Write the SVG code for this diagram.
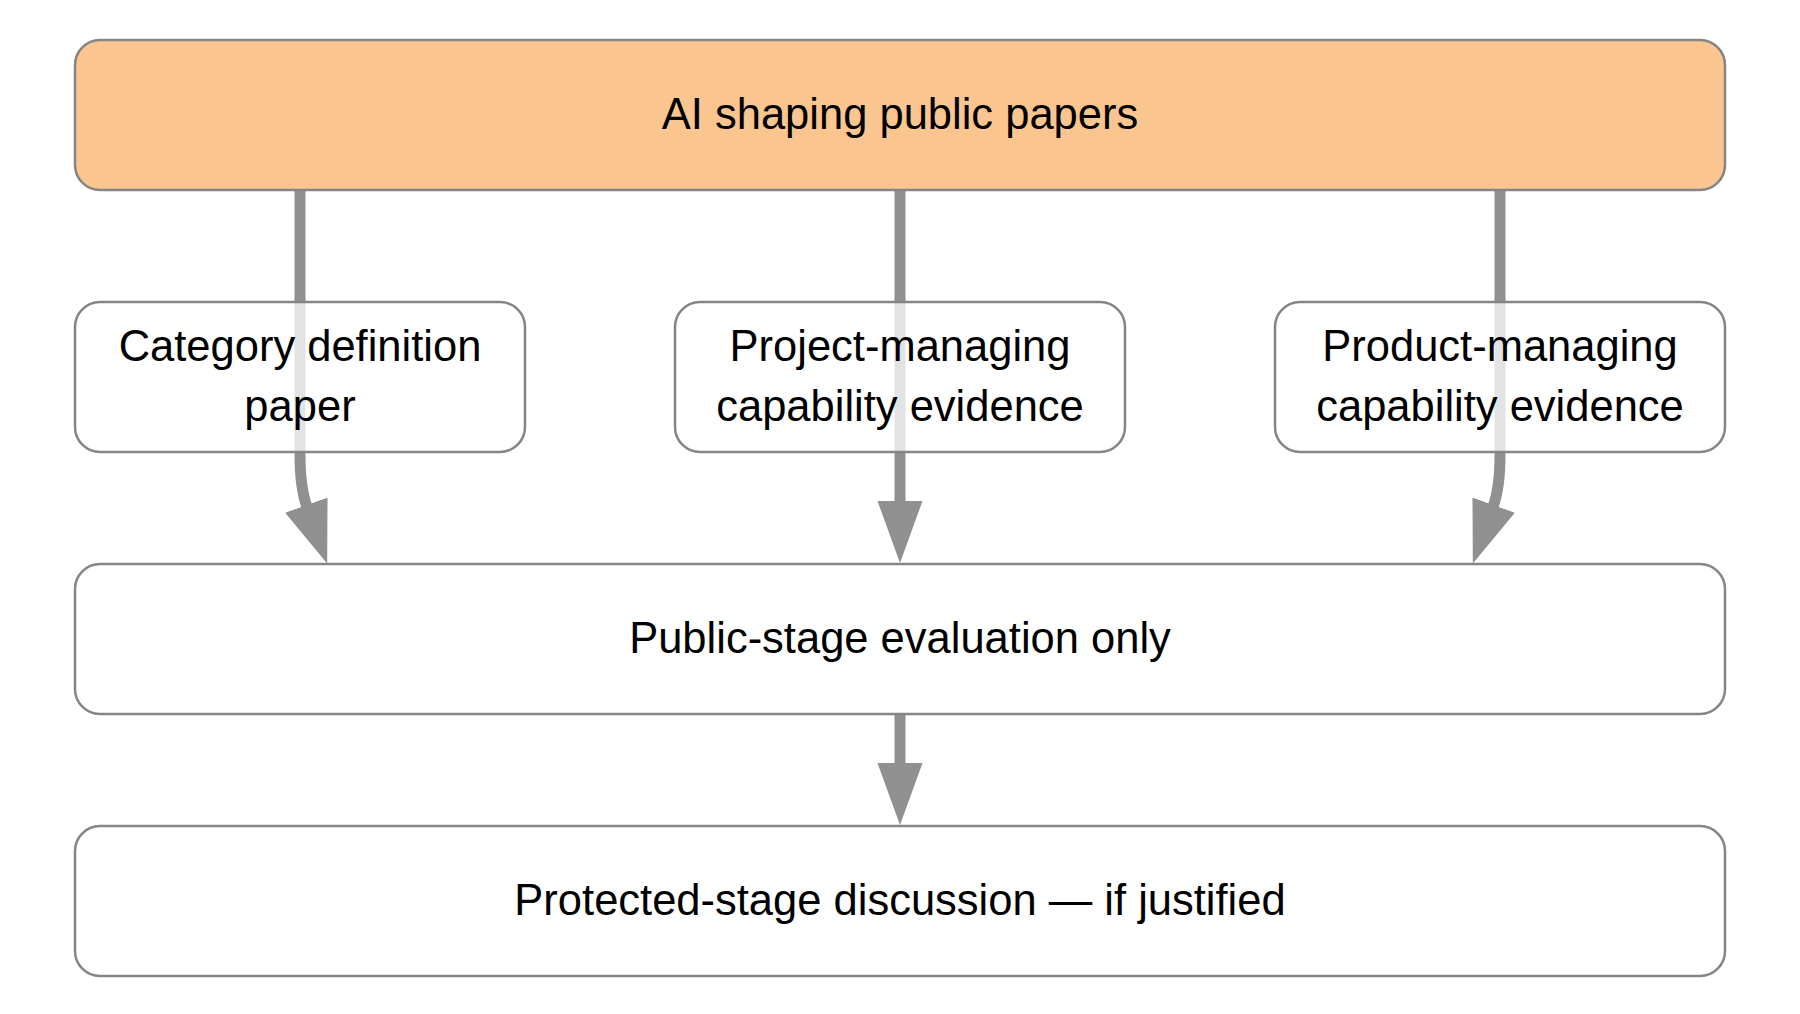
<svg xmlns="http://www.w3.org/2000/svg" width="1800" height="1014" viewBox="0 0 1800 1014">
  <style>
    .box { fill: #ffffff; fill-opacity: 0.75; stroke: #858585; stroke-width: 2.5; }
    .top { fill: #FBC58F; fill-opacity: 1; }
    .lbl { font-family: "Liberation Sans", Arial, sans-serif; font-size: 43.5px; fill: #000000; text-anchor: middle; }
    .edge { fill: none; stroke: #909090; stroke-width: 11; }
  </style>
  <defs>
    <marker id="arrow" markerUnits="userSpaceOnUse" markerWidth="64" markerHeight="46" viewBox="0 0 64 46" refX="2" refY="22.5" orient="auto">
      <path d="M0,0 L62,22.5 L0,45 Z" fill="#909090"/>
    </marker>
  </defs>
  <rect width="1800" height="1014" fill="#ffffff"/>
  <g id="connectors">
    <path class="edge" d="M300,190 V455 Q300,487.4 307,507" marker-end="url(#arrow)"/>
    <path class="edge" d="M900,190 V503" marker-end="url(#arrow)"/>
    <path class="edge" d="M1500,190 V455 Q1500,487.4 1493,507" marker-end="url(#arrow)"/>
    <path class="edge" d="M900,714 V765" marker-end="url(#arrow)"/>
  </g>
  <g id="node-ai">
    <rect class="box top" x="75" y="40" width="1650" height="150" rx="25"/>
    <text class="lbl" x="900" y="128.5">AI shaping public papers</text>
  </g>
  <g id="node-category">
    <rect class="box" x="75" y="302" width="450" height="150" rx="25"/>
    <text class="lbl" x="300" y="360.5">Category definition</text>
    <text class="lbl" x="300" y="420.5">paper</text>
  </g>
  <g id="node-project">
    <rect class="box" x="675" y="302" width="450" height="150" rx="25"/>
    <text class="lbl" x="900" y="360.5">Project-managing</text>
    <text class="lbl" x="900" y="420.5">capability evidence</text>
  </g>
  <g id="node-product">
    <rect class="box" x="1275" y="302" width="450" height="150" rx="25"/>
    <text class="lbl" x="1500" y="360.5">Product-managing</text>
    <text class="lbl" x="1500" y="420.5">capability evidence</text>
  </g>
  <g id="node-public">
    <rect class="box" x="75" y="564" width="1650" height="150" rx="25"/>
    <text class="lbl" x="900" y="652.5">Public-stage evaluation only</text>
  </g>
  <g id="node-protected">
    <rect class="box" x="75" y="826" width="1650" height="150" rx="25"/>
    <text class="lbl" x="900" y="914.5">Protected-stage discussion — if justified</text>
  </g>
</svg>
